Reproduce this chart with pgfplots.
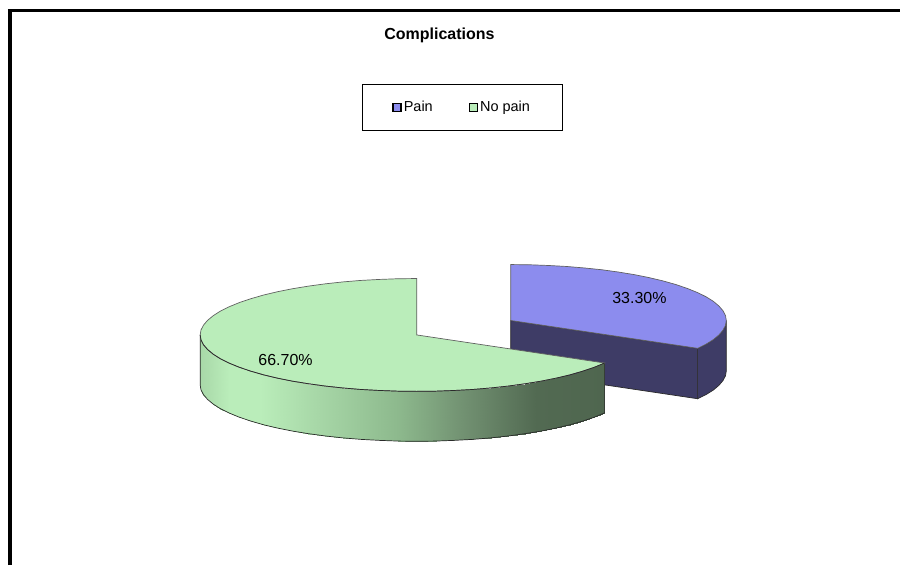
\documentclass[border=0pt]{standalone}
\usepackage{fontspec}
\setmainfont{Liberation Sans}
\usepackage{pgfplots}
\pgfplotsset{compat=1.18}
\definecolor{painTop}{HTML}{8C8CEE}
\definecolor{painSide}{HTML}{3E3C66}
\definecolor{noPainTop}{HTML}{BAEDBA}
\definecolor{edgeDark}{HTML}{2A2A2A}
\definecolor{edgeGrey}{HTML}{606060}
% Horizontal light-to-dark band on the rim of the larger slice
\pgfplotsset{colormap={rimshade}{
  rgb255(0cm)=(168,216,168)
  rgb255(3cm)=(186,237,186)
  rgb255(6cm)=(186,237,186)
  rgb255(20cm)=(141,185,141)
  rgb255(27cm)=(112,143,112)
  rgb255(34cm)=(82,106,82)
  rgb255(41cm)=(79,102,79)}}
\begin{document}
\begin{tikzpicture}
\begin{axis}[
  scale only axis, width=901pt, height=566pt,
  xmin=-0.5, xmax=900.5, ymin=0, ymax=566, y dir=reverse,
  axis lines=none, clip=false,
  title={Complications},
  title style={at={(axis description cs:0.4885,0.9265)},anchor=center,
    font=\fontsize{16}{18}\selectfont\bfseries},
  legend columns=2,
  legend cell align=left,
  legend style={at={(axis cs:462.5,107.5)},anchor=center,draw=black,line width=0.8pt,
    font=\fontsize{14.5}{16}\selectfont,
    inner xsep=30.5pt,inner ysep=15pt,
    /tikz/every even column/.append style={column sep=34pt}},
]
% Keep the sheet at the full size of the axis
\path (axis cs:-0.5,0) rectangle (axis cs:900.5,566);
% Cut face and outer rim of the detached "Pain" slice
\addplot[forget plot,draw=edgeDark,line width=0.7pt,fill=painSide] coordinates {
 (511,321) (698.3,348.9) (698.3,399.4) (511,371.5)} -- cycle;
\addplot[forget plot,draw=edgeDark,line width=0.7pt,fill=painSide] coordinates {
 (727,321) (726.2,325.9) (723.7,330.7) (719.6,335.5) (714,340.2) (706.8,344.7) (698.3,348.9)
 (698.3,399.4) (706.8,395.2) (714,390.7) (719.6,386) (723.7,381.2) (726.2,376.4) (727,371.5)} -- cycle;
% Top of the "Pain" slice: 33.3 % of the turn
\addplot[draw=edgeGrey,line width=0.7pt,fill=painTop,
  legend image code/.code={\draw[black,line width=1.4pt,fill=painTop] (0pt,-4pt) rectangle (8pt,4pt);}] coordinates {
 (511,321) (511,265) (529.8,265.2) (548.5,265.9) (566.9,266.9) (584.9,268.4) (602.3,270.2)
 (619,272.5) (634.9,275.1) (649.8,278.1) (663.7,281.4) (676.5,285) (687.9,288.9) (698.1,293)
 (706.8,297.3) (714,301.8) (719.6,306.5) (723.7,311.3) (726.2,316.1) (727,321) (726.2,325.9)
 (723.7,330.7) (719.6,335.5) (714,340.2) (706.8,344.7) (698.3,348.9)} -- cycle;
\addlegendentry{Pain}
% Shaded rim of the "No pain" slice: upper edge, then lower edge
\addplot[forget plot,surf,shader=interp,colormap name=rimshade,mesh/rows=2,
  point meta=x,point meta min=200,point meta max=606] coordinates {
 (200,335.5) (200.8,340.4) (203.3,345.3) (207.4,350.1) (213.1,354.8) (220.3,359.4) (229.1,363.75)
 (239.2,367.9) (250.8,371.8) (263.6,375.5) (277.5,378.8) (292.5,381.8) (308.5,384.4) (325.3,386.7)
 (342.8,388.6) (360.8,390.1) (379.3,391.1) (398.1,391.8) (417,392) (435.9,391.8) (454.7,391.1)
 (473.2,390.1) (491.2,388.6) (508.7,386.7) (525.5,384.4) (541.5,381.8) (556.5,378.8) (570.4,375.5)
 (583.2,371.8) (594.8,367.9) (605.1,363.6)

 (200,385.5) (200.8,390.4) (203.3,395.3) (207.4,400.1) (213.1,404.8) (220.3,409.4) (229.1,413.75)
 (239.2,417.9) (250.8,421.8) (263.6,425.5) (277.5,428.8) (292.5,431.8) (308.5,434.4) (325.3,436.7)
 (342.8,438.6) (360.8,440.1) (379.3,441.1) (398.1,441.8) (417,442) (435.9,441.8) (454.7,441.1)
 (473.2,440.1) (491.2,438.6) (508.7,436.7) (525.5,434.4) (541.5,431.8) (556.5,428.8) (570.4,425.5)
 (583.2,421.8) (594.8,417.9) (605.1,413.6)};
% Lower outline of the rim
\addplot[forget plot,draw=edgeDark,line width=0.7pt] coordinates {
 (605.1,363.6)
 (605.1,413.6) (594.8,417.9) (583.2,421.8) (570.4,425.5) (556.5,428.8) (541.5,431.8) (525.5,434.4)
 (508.7,436.7) (491.2,438.6) (473.2,440.1) (454.7,441.1) (435.9,441.8) (417,442) (398.1,441.8)
 (379.3,441.1) (360.8,440.1) (342.8,438.6) (325.3,436.7) (308.5,434.4) (292.5,431.8) (277.5,428.8)
 (263.6,425.5) (250.8,421.8) (239.2,417.9) (229.1,413.75) (220.3,409.4) (213.1,404.8) (207.4,400.1)
 (203.3,395.3) (200.8,390.4) (200,385.5) (200,335.5)};
% Top of the "No pain" slice: 66.7 % of the turn
\addplot[draw=edgeGrey,line width=0.7pt,fill=noPainTop,
  legend image code/.code={\draw[black,line width=1.4pt,fill=noPainTop] (0pt,-4pt) rectangle (8pt,4pt);}] coordinates {
 (417,335.5) (417,279) (398.1,279.2) (379.3,279.9) (360.8,280.9) (342.8,282.4) (325.3,284.3)
 (308.5,286.6) (292.5,289.2) (277.5,292.2) (263.6,295.5) (250.8,299.2) (239.2,303.1) (229.1,307.25)
 (220.3,311.6) (213.1,316.2) (207.4,320.9) (203.3,325.7) (200.8,330.6) (200,335.5) (200.8,340.4)
 (203.3,345.3) (207.4,350.1) (213.1,354.8) (220.3,359.4) (229.1,363.75) (239.2,367.9) (250.8,371.8)
 (263.6,375.5) (277.5,378.8) (292.5,381.8) (308.5,384.4) (325.3,386.7) (342.8,388.6) (360.8,390.1)
 (379.3,391.1) (398.1,391.8) (417,392) (435.9,391.8) (454.7,391.1) (473.2,390.1) (491.2,388.6)
 (508.7,386.7) (525.5,384.4) (541.5,381.8) (556.5,378.8) (570.4,375.5) (583.2,371.8) (594.8,367.9)
 (605.1,363.6)} -- cycle;
\addlegendentry{No pain}
% Darker front arc where the top meets the rim
\addplot[forget plot,draw=edgeDark,line width=0.7pt] coordinates {
 (200,335.5) (200.8,340.4)
 (203.3,345.3) (207.4,350.1) (213.1,354.8) (220.3,359.4) (229.1,363.75) (239.2,367.9) (250.8,371.8)
 (263.6,375.5) (277.5,378.8) (292.5,381.8) (308.5,384.4) (325.3,386.7) (342.8,388.6) (360.8,390.1)
 (379.3,391.1) (398.1,391.8) (417,392) (435.9,391.8) (454.7,391.1) (473.2,390.1) (491.2,388.6)
 (508.7,386.7) (525.5,384.4) (541.5,381.8) (556.5,378.8) (570.4,375.5) (583.2,371.8) (594.8,367.9)
 (605.1,363.6)};
% Slice value labels
\node[font=\fontsize{16}{18}\selectfont] at (axis cs:640,298.5) {33.30\%};
\node[font=\fontsize{16}{18}\selectfont] at (axis cs:285.5,360.5) {66.70\%};
% Outer frame: only the top and left sides fall inside the sheet
\draw[black,line width=3.5pt] (axis cs:9.3,566) -- (axis cs:9.3,10.5);
\draw[black,line width=3pt] (axis cs:7.5,10.5) -- (axis cs:900.5,10.5);
\end{axis}
\end{tikzpicture}
\end{document}
